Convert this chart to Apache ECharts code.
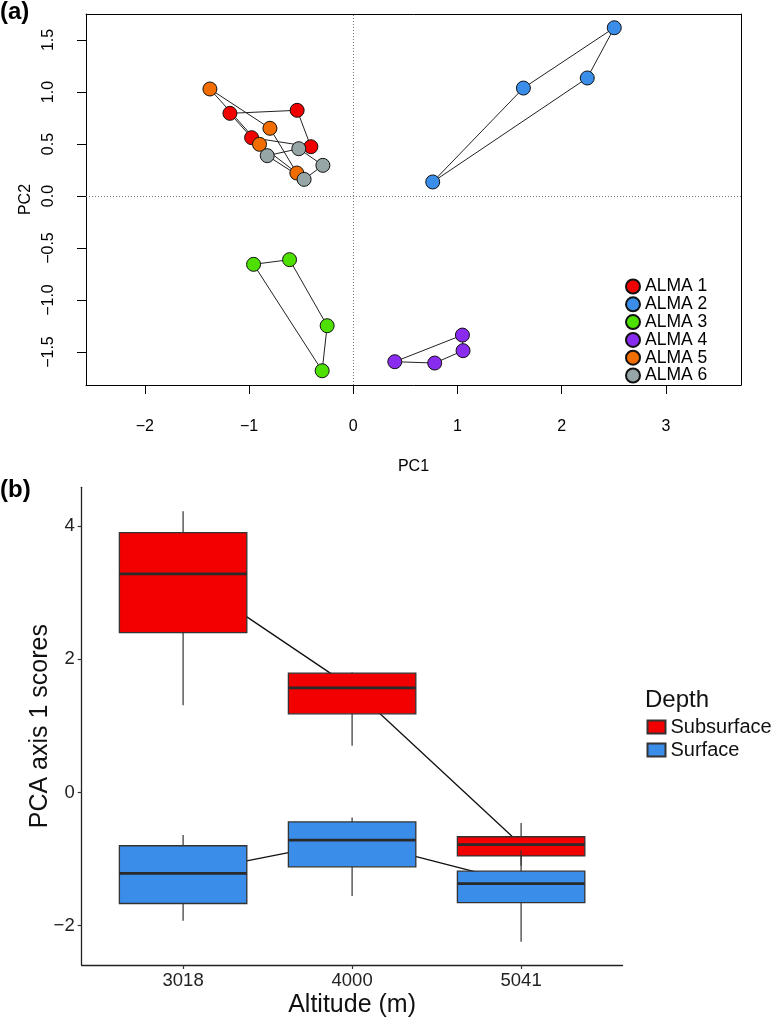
<!DOCTYPE html>
<html>
<head>
<meta charset="utf-8">
<script src="https://cdn.jsdelivr.net/npm/echarts@6/dist/echarts.min.js"></script>
<style>html,body{margin:0;padding:0;background:#fff}#c{width:780px;height:1020px}</style>
</head>
<body>
<div id="c"></div>
<script>
// ---------- Panel (a): PCA scores per site ----------
const almaNames = ['ALMA 1', 'ALMA 2', 'ALMA 3', 'ALMA 4', 'ALMA 5', 'ALMA 6'];
const almaColors = ['#f20000', '#3a8de8', '#4de000', '#8a2cf0', '#f26d00', '#96a5a5'];
const alma1 = [[-1.184, 0.795], [-0.539, 0.824], [-0.407, 0.474], [-0.976, 0.561]];
const alma2 = [[0.762, 0.135], [1.632, 1.038], [2.504, 1.618], [2.245, 1.135]];
const alma3 = [[-0.957, -0.657], [-0.612, -0.612], [-0.251, -1.247], [-0.299, -1.680]];
const alma4 = [[0.398, -1.593], [1.047, -1.337], [1.053, -1.487], [0.781, -1.606]];
const alma5 = [[-1.376, 1.029], [-0.800, 0.651], [-0.542, 0.221], [-0.900, 0.497]];
const alma6 = [[-0.523, 0.455], [-0.292, 0.295], [-0.472, 0.160], [-0.826, 0.388]];
const pc1Ticks = [-2, -1, 0, 1, 2, 3];
const pc2Ticks = [-1.5, -1.0, -0.5, 0.0, 0.5, 1.0, 1.5];

// ---------- Panel (b): boxplots [min, Q1, median, Q3, max] ----------
const altitudes = ['3018', '4000', '5041'];
const depthNames = ['Subsurface', 'Surface'];
const depthColors = ['#f20000', '#3a8de8'];
const subsurface = [[1.31, 2.40, 3.28, 3.90, 4.22], [0.70, 1.18, 1.57, 1.79, 1.80], [-1.10, -0.953, -0.784, -0.665, -0.457]];
const surface = [[-1.926, -1.667, -1.216, -0.80, -0.64], [-1.553, -1.117, -0.715, -0.442, -0.377], [-2.24, -1.653, -1.37, -1.181, -0.87]];
const scoreTicks = [-2, 0, 2, 4];

const FONT = 'Liberation Sans, Arial, Helvetica, sans-serif';
const minus = s => String(s).replace('-', '\u2212');

const chart = echarts.init(document.getElementById('c'), null, {renderer: 'canvas'});
const almaData = [alma1, alma2, alma3, alma4, alma5, alma6];
const depthData = [subsurface, surface];

const series = [];
// hull outlines
almaData.forEach((pts, i) => {
  series.push({
    type: 'line', name: 'hull' + i, xAxisIndex: 0, yAxisIndex: 0,
    data: pts.concat([pts[0]]), symbol: 'none', silent: true, z: 2,
    lineStyle: {color: '#222', width: 1}, animation: false,
    markLine: i === 0 ? {
      silent: true, symbol: 'none', label: {show: false},
      lineStyle: {color: '#777', type: [1, 2], width: 1},
      data: [{xAxis: 0}, {yAxis: 0}]
    } : undefined
  });
});
// points
almaData.forEach((pts, i) => {
  series.push({
    type: 'scatter', name: almaNames[i], xAxisIndex: 0, yAxisIndex: 0,
    data: pts, symbol: 'circle', symbolSize: 14, z: 5, animation: false,
    itemStyle: {color: almaColors[i], borderColor: '#111', borderWidth: 1, opacity: 1}
  });
});
// median connection lines (b)
depthData.forEach((d, i) => {
  series.push({
    type: 'line', name: 'med' + i, xAxisIndex: 2, yAxisIndex: 2,
    data: d.map((v, k) => [k + 1, v[2]]), symbol: 'none', silent: true, z: 1,
    lineStyle: {color: '#111', width: 1.3}, animation: false
  });
});
// boxes (b)
function renderBox(params, api) {
  const x = api.value(0);
  const mn = api.coord([x, api.value(1)]);
  const q1 = api.coord([x, api.value(2)]);
  const md = api.coord([x, api.value(3)]);
  const q3 = api.coord([x, api.value(4)]);
  const mx = api.coord([x, api.value(5)]);
  const w = api.size([0.754, 0])[0];
  const fill = api.visual('color');
  const ln = {stroke: '#333', lineWidth: 1.2};
  return {
    type: 'group',
    children: [
      {type: 'line', shape: {x1: mx[0], y1: mx[1], x2: q3[0], y2: q3[1]}, style: ln},
      {type: 'line', shape: {x1: q1[0], y1: q1[1], x2: mn[0], y2: mn[1]}, style: ln},
      {type: 'rect', shape: {x: q3[0] - w / 2, y: q3[1], width: w, height: q1[1] - q3[1]},
        style: {fill: fill, stroke: '#333', lineWidth: 1.3}},
      {type: 'line', shape: {x1: md[0] - w / 2, y1: md[1], x2: md[0] + w / 2, y2: md[1]},
        style: {stroke: '#2a2a2a', lineWidth: 2.8}}
    ]
  };
}
depthData.forEach((d, i) => {
  series.push({
    type: 'custom', name: depthNames[i], xAxisIndex: 2, yAxisIndex: 2,
    renderItem: renderBox, z: 3 + i, animation: false,
    itemStyle: {color: depthColors[i], borderColor: '#333', borderWidth: 1},
    encode: {x: 0, y: [1, 2, 3, 4, 5]},
    data: d.map((v, k) => [k + 1].concat(v))
  });
});

const axisTextA = {color: '#000', fontSize: 16, fontFamily: FONT};
const frameAxis = (extra) => Object.assign({
  type: 'value', gridIndex: 0, splitLine: {show: false},
  axisLine: {show: true, onZero: false, lineStyle: {color: '#000', width: 1}},
  axisTick: {show: false}, axisLabel: {show: false}
}, extra);

const option = {
  backgroundColor: '#fff',
  animation: false,
  title: [
    {text: '(a)', left: 0, top: 0, padding: 0, textStyle: {fontSize: 24, fontWeight: 'bold', color: '#000', fontFamily: FONT}},
    {text: '(b)', left: 0, top: 478, padding: 0, textStyle: {fontSize: 24, fontWeight: 'bold', color: '#000', fontFamily: FONT}},
    {text: 'Depth', left: 645, top: 688, padding: 0, textStyle: {fontSize: 24, fontWeight: 'normal', color: '#111', fontFamily: FONT}}
  ],
  legend: [
    {
      data: almaNames, orient: 'vertical', left: 625, top: 277.5, padding: 0,
      icon: 'circle', itemWidth: 14, itemHeight: 14, itemGap: -0.2,
      textStyle: {fontSize: 17.5, lineHeight: 14, color: '#000', fontFamily: FONT},
      selectedMode: false
    },
    {
      data: depthNames, orient: 'vertical', left: 646.5, top: 716, padding: 0,
      icon: 'rect', itemWidth: 18, itemHeight: 13, itemGap: 1,
      textStyle: {fontSize: 20, lineHeight: 22, color: '#111', fontFamily: FONT},
      selectedMode: false
    }
  ],
  grid: [
    {left: 86, top: 14, right: 39, bottom: 635},
    {left: 81.7, top: 487.3, right: 157.5, bottom: 55}
  ],
  xAxis: [
    {
      type: 'value', gridIndex: 0, min: -2.565, max: 3.72, position: 'bottom',
      splitLine: {show: false}, axisLine: {show: true, onZero: false, lineStyle: {color: '#000', width: 1}},
      axisTick: {show: true, inside: false, customValues: pc1Ticks, length: 9, lineStyle: {color: '#000', width: 1}},
      axisLabel: Object.assign({show: true, customValues: pc1Ticks, margin: 34, formatter: v => minus(v)}, axisTextA),
      name: 'PC1', nameLocation: 'middle', nameGap: 74, nameMoveOverlap: false, nameTextStyle: axisTextA
    },
    frameAxis({min: -2.565, max: 3.72, position: 'top'}),
    {
      type: 'value', gridIndex: 1, min: 0.4, max: 3.6,
      splitLine: {show: false},
      axisLine: {show: true, onZero: false, lineStyle: {color: '#222', width: 1.3}},
      axisTick: {show: true, customValues: [1, 2, 3], length: 4, lineStyle: {color: '#333', width: 1.2}},
      axisLabel: {customValues: [1, 2, 3], margin: 6, formatter: v => altitudes[Math.round(v) - 1],
        color: '#222', fontSize: 18.5, fontFamily: FONT},
      name: 'Altitude (m)', nameLocation: 'middle', nameGap: 28, nameMoveOverlap: false,
      nameTextStyle: {color: '#111', fontSize: 25, fontFamily: FONT}
    }
  ],
  yAxis: [
    {
      type: 'value', gridIndex: 0, min: -1.817, max: 1.75, position: 'left',
      splitLine: {show: false}, axisLine: {show: true, onZero: false, lineStyle: {color: '#000', width: 1}},
      axisTick: {show: true, inside: false, customValues: pc2Ticks, length: 9, lineStyle: {color: '#000', width: 1}},
      axisLabel: Object.assign({show: true, customValues: pc2Ticks, rotate: 90, margin: 29, formatter: v => minus(v.toFixed(1))}, axisTextA),
      name: 'PC2', nameLocation: 'middle', nameGap: 52, nameRotate: 90, nameMoveOverlap: false, nameTextStyle: axisTextA
    },
    frameAxis({min: -1.817, max: 1.75, position: 'right'}),
    {
      type: 'value', gridIndex: 1, min: -2.59, max: 4.58,
      splitLine: {show: false},
      axisLine: {show: true, onZero: false, lineStyle: {color: '#222', width: 1.3}},
      axisTick: {show: true, customValues: scoreTicks, length: 4, lineStyle: {color: '#333', width: 1.2}},
      axisLabel: {customValues: scoreTicks, margin: 7, formatter: v => minus(v),
        color: '#222', fontSize: 18.5, fontFamily: FONT},
      name: 'PCA axis 1 scores', nameLocation: 'middle', nameGap: 29, nameRotate: 90, nameMoveOverlap: false,
      nameTextStyle: {color: '#111', fontSize: 25, fontFamily: FONT}
    }
  ],
  series: series
};
chart.setOption(option);
</script>
</body>
</html>
